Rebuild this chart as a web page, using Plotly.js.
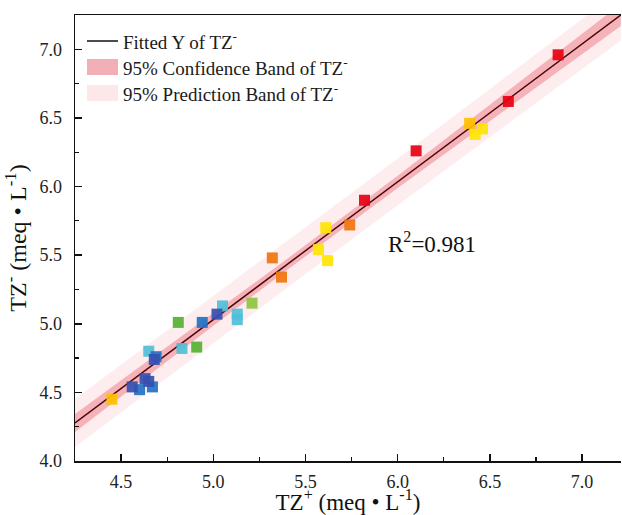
<!DOCTYPE html>
<html>
<head>
<meta charset="utf-8">
<script src="https://cdn.plot.ly/plotly-3.0.1.min.js"></script>
<style>html,body{margin:0;padding:0;background:#fff;}#chart{width:622px;height:515px;}</style>
</head>
<body>
<div id="chart"></div>
<script>
// ---- data ----
const redX = [6.87, 6.60, 6.10, 5.82];
const redY = [6.96, 6.62, 6.26, 5.90];
const orangeX = [5.74, 5.32, 5.37];
const orangeY = [5.72, 5.48, 5.34];
const goldX = [6.39, 4.45];
const goldY = [6.46, 4.45];
const yellowX = [6.42, 6.46, 5.61, 5.57, 5.62];
const yellowY = [6.38, 6.42, 5.70, 5.54, 5.46];
const limeX = [5.21];
const limeY = [5.15];
const greenX = [4.81, 4.91];
const greenY = [5.01, 4.83];
const cyanX = [5.05, 5.13, 5.13, 4.83, 4.65];
const cyanY = [5.13, 5.07, 5.03, 4.82, 4.80];
const blueX = [4.94, 4.69, 4.67, 4.60];
const blueY = [5.01, 4.76, 4.54, 4.52];
const indigoX = [5.02, 4.68, 4.63, 4.65, 4.56];
const indigoY = [5.07, 4.74, 4.60, 4.58, 4.54];

// fitted line and band half-widths read at these x positions
const fitX = [4.25, 5.00, 5.40, 6.00, 6.60, 7.21];
const fitY = [4.277, 5.030, 5.432, 6.034, 6.637, 7.250];
const confHalf = [0.065, 0.045, 0.040, 0.045, 0.060, 0.080];
const predHalf = [0.175, 0.170, 0.170, 0.170, 0.175, 0.185];

const xTickVals = [4.5, 5.0, 5.5, 6.0, 6.5, 7.0];
const yTickVals = [4.0, 4.5, 5.0, 5.5, 6.0, 6.5, 7.0];
const legendNames = ['Fitted Y of TZ<sup>-</sup>', '95% Confidence Band of TZ<sup>-</sup>', '95% Prediction Band of TZ<sup>-</sup>'];
const r2Text = 'R<sup>2</sup>=0.981';

function band(half) {
  const up = fitY.map((v, i) => v + half[i]);
  const lo = fitY.map((v, i) => v - half[i]);
  return {x: fitX.concat(fitX.slice().reverse()), y: up.concat(lo.slice().reverse())};
}
const pb = band(predHalf);
const cb = band(confHalf);

function pts(x, y, c) {
  return {x: x, y: y, type: 'scatter', mode: 'markers', showlegend: false, hoverinfo: 'skip',
    marker: {symbol: 'square', size: 11, color: c, opacity: 0.92, line: {width: 0}}};
}

const serif = 'Liberation Serif, Times New Roman, serif';
const predFill = 'rgba(250,215,218,0.45)';
const confFill = 'rgba(238,130,140,0.55)';
const lineCol = '#4a0808';

const data = [
  {x: pb.x, y: pb.y, type: 'scatter', mode: 'lines', fill: 'toself', fillcolor: predFill,
   line: {width: 0, color: 'rgba(0,0,0,0)'}, name: legendNames[2], showlegend: false},
  {x: cb.x, y: cb.y, type: 'scatter', mode: 'lines', fill: 'toself', fillcolor: confFill,
   line: {width: 0, color: 'rgba(0,0,0,0)'}, name: legendNames[1], showlegend: false},
  {x: fitX, y: fitY, type: 'scatter', mode: 'lines', line: {color: lineCol, width: 1.5},
   name: legendNames[0], showlegend: false},
  pts(redX, redY, '#e60012'),
  pts(orangeX, orangeY, '#f07510'),
  pts(goldX, goldY, '#ffc000'),
  pts(yellowX, yellowY, '#ffe400'),
  pts(limeX, limeY, '#8cc63f'),
  pts(greenX, greenY, '#56b131'),
  pts(cyanX, cyanY, '#4fbfd8'),
  pts(blueX, blueY, '#2272c3'),
  pts(indigoX, indigoY, '#3550b0')
];

// manual legend placement (pixel -> paper)
const L = 75, T = 15, W = 546, H = 446;
const px = v => (v - L) / W;
const py = v => 1 - (v - T) / H;
const rowY = [41, 67, 93];

const shapes = [
  {type: 'line', xref: 'paper', yref: 'paper', x0: px(87), x1: px(118), y0: py(rowY[0]), y1: py(rowY[0]),
   line: {color: '#111', width: 1.5}},
  {type: 'rect', xref: 'paper', yref: 'paper', x0: px(87), x1: px(118), y0: py(rowY[1] - 8), y1: py(rowY[1] + 8),
   fillcolor: 'rgba(238,150,158,0.75)', line: {width: 0}},
  {type: 'rect', xref: 'paper', yref: 'paper', x0: px(87), x1: px(118), y0: py(rowY[2] - 8), y1: py(rowY[2] + 8),
   fillcolor: 'rgba(251,226,228,0.8)', line: {width: 0}}
];

const annotations = legendNames.map((t, i) => ({
  xref: 'paper', yref: 'paper', x: px(121), y: py(rowY[i]), xanchor: 'left', yanchor: 'middle',
  text: t, showarrow: false, font: {family: serif, size: 19, color: '#1a1a1a'}
}));
annotations.push({x: 6.186, y: 5.595, xref: 'x', yref: 'y', text: r2Text, showarrow: false,
                  font: {family: serif, size: 23, color: '#111'}});

const layout = {
  width: 622, height: 515,
  margin: {l: 75, r: 1, t: 15, b: 54},
  paper_bgcolor: '#fff', plot_bgcolor: '#fff',
  font: {family: serif, color: '#222', size: 18},
  showlegend: false,
  xaxis: {
    range: [4.25, 7.211], tickvals: xTickVals, tickformat: '.1f',
    ticks: 'inside', ticklen: 7, tickwidth: 1.5, tickcolor: '#111',
    minor: {dtick: 0.25, ticks: 'inside', ticklen: 4, tickwidth: 1.2, tickcolor: '#111', showgrid: false},
    showline: true, linecolor: '#111', linewidth: 1.5, mirror: true,
    showgrid: false, zeroline: false, ticklabelstandoff: 4,
    tickfont: {family: serif, size: 18, color: '#222'},
    title: {text: 'TZ<sup>+</sup> (meq • L<sup>-1</sup>)', font: {family: serif, size: 23, color: '#111'}, standoff: 7}
  },
  yaxis: {
    range: [4.0, 7.25], tickvals: yTickVals, tickformat: '.1f',
    ticks: 'inside', ticklen: 7, tickwidth: 1.5, tickcolor: '#111',
    minor: {dtick: 0.25, ticks: 'inside', ticklen: 4, tickwidth: 1.2, tickcolor: '#111', showgrid: false},
    showline: true, linecolor: '#111', linewidth: 1.5, mirror: false,
    showgrid: false, zeroline: false, ticklabelstandoff: 8,
    tickfont: {family: serif, size: 18, color: '#222'},
    title: {text: 'TZ<sup>-</sup> (meq • L<sup>-1</sup>)', font: {family: serif, size: 24, color: '#111'}, standoff: 6}
  },
  shapes: shapes,
  annotations: annotations
};

Plotly.newPlot('chart', data, layout, {displayModeBar: false, staticPlot: true});
</script>
</body>
</html>
